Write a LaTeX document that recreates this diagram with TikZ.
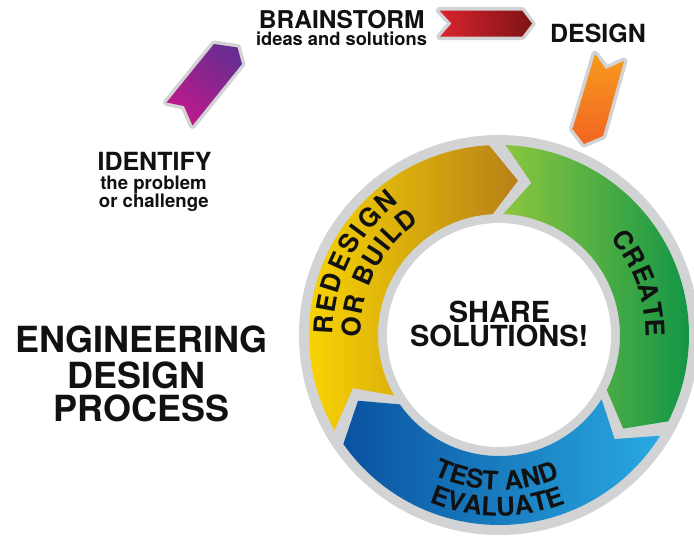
\documentclass[tikz,border=0pt]{standalone}
\usepackage{fontspec}
\setmainfont{TeX Gyre Heros}
\usetikzlibrary{decorations.text}
\definecolor{ringgrey}{HTML}{D1D3D4}
\definecolor{yelA}{HTML}{FFDE00}
\definecolor{yelB}{HTML}{B88018}
\definecolor{grnA}{HTML}{8DC63F}
\definecolor{grnB}{HTML}{0E9447}
\definecolor{bluA}{HTML}{0A52A0}
\definecolor{bluB}{HTML}{29A9E1}
\definecolor{purA}{HTML}{C0198C}
\definecolor{purB}{HTML}{6A2C90}
\definecolor{redA}{HTML}{D9232D}
\definecolor{redB}{HTML}{7D1416}
\definecolor{oraA}{HTML}{F89A1C}
\definecolor{oraB}{HTML}{F16522}
\definecolor{ink}{HTML}{111111}
\newcommand\ringfont{\bfseries\fontsize{26pt}{26pt}\selectfont}
\newcommand\fsz[1]{\bfseries\fontsize{#1pt}{#1pt}\selectfont}
\tikzset{
  outline/.style={draw=ringgrey, line width=7pt, line join=round},
  lbl/.style={inner sep=0pt, anchor=base, text=ink},
  ringtext/.style={decorate, decoration={text along path, text color=ink, text={|\ringfont|#1}, text align=center}},
  ringfit/.style={decorate, decoration={text along path, text color=ink, text={|\ringfont|#1}, text align=fit to path}}
}
\begin{document}
\begin{tikzpicture}[x=1pt,y=1pt]
\useasboundingbox (0,-541) rectangle (694,0);
\fill[white] (0,-541) rectangle (694,0);

% ---- small ribbon arrows
\path[outline] (214,-44) -- (237.5,-47.5) -- (242,-64) -- (192.5,-125.5) -- (184,-106) -- (166.5,-102.5) -- cycle;
\shade[top color=purB, bottom color=purA, shading angle=-40] (214,-44) -- (237.5,-47.5) -- (242,-64) -- (192.5,-125.5) -- (184,-106) -- (166.5,-102.5) -- cycle;

\path[outline] (439.5,-10.5) -- (522,-10.5) -- (532,-23.5) -- (522,-36.7) -- (440,-36.7) -- (451.5,-23.5) -- cycle;
\shade[left color=redA, right color=redB] (439.5,-10.5) -- (522,-10.5) -- (532,-23.5) -- (522,-36.7) -- (440,-36.7) -- (451.5,-23.5) -- cycle;

\path[outline] (595,-54) -- (606,-69) -- (624,-61) -- (603,-136) -- (584,-144) -- (572.5,-129) -- cycle;
\shade[top color=oraA, bottom color=oraB] (595,-54) -- (606,-69) -- (624,-61) -- (603,-136) -- (584,-144) -- (572.5,-129) -- cycle;

% ---- ring
\begin{scope}[shift={(499,-335)}]
\fill[ringgrey] (0,0) circle[radius=200pt];
\shade[left color=yelA, right color=yelB]
  (210:190pt) arc[start angle=210, end angle=93, radius=190pt] -- (83:155.5pt)
  -- (93:121pt) arc[start angle=93, end angle=210, radius=121pt] -- (200:155.5pt) -- cycle;
\shade[left color=grnA, right color=grnB]
  (88:190pt) arc[start angle=88, end angle=-27, radius=190pt] -- (-37:155.5pt)
  -- (-27:121pt) arc[start angle=-27, end angle=88, radius=121pt] -- (78:155.5pt) -- cycle;
\shade[left color=bluA, right color=bluB]
  (-32:190pt) arc[start angle=-32, end angle=-145, radius=190pt] -- (-155:155.5pt)
  -- (-145:121pt) arc[start angle=-145, end angle=-32, radius=121pt] -- (-42:155.5pt) -- cycle;
\fill[white] (0,0) circle[radius=112pt];

\path[ringfit={REDESIGN}] (180:166pt) arc[start angle=180, end angle=127, radius=166pt];
\path[ringfit={OR BUILD}] (181:138.5pt) arc[start angle=181, end angle=125, radius=138.5pt];
\path[ringtext={CREATE}] (44:147pt) arc[start angle=44, end angle=-4, radius=147pt];
\path[ringtext={TEST AND}] (-120:155pt) arc[start angle=-120, end angle=-62, radius=155pt];
\path[ringtext={EVALUATE}] (-118:181pt) arc[start angle=-118, end angle=-63, radius=181pt];
\end{scope}

% ---- labels
\node[lbl, font=\fsz{24.5}] (brain) at (341.7,-28.3) {BRAINSTORM};
\node[lbl, font=\fsz{18.3}] (ideas) at (341.5,-45) {ideas and solutions};
\node[lbl, font=\fsz{25}] (design) at (598,-42.3) {DESIGN};
\node[lbl, font=\fsz{25}] (identify) at (154.5,-170.7) {IDENTIFY};
\node[lbl, font=\fsz{18.6}] (problem) at (153.5,-189.3) {the problem};
\node[lbl, font=\fsz{18.6}] (challenge) at (153.8,-207.3) {or challenge};
\node[lbl, font=\fsz{36}] (eng) at (141.5,-352.7) {ENGINEERING};
\node[lbl, font=\fsz{36}] (edesign) at (136.5,-388.3) {DESIGN};
\node[lbl, font=\fsz{36}] (process) at (141.5,-421.7) {PROCESS};
\node[lbl, font=\fsz{29}] (share) at (499.5,-322.7) {SHARE};
\node[lbl, font=\fsz{29}] (solutions) at (499.2,-346.7) {SOLUTIONS!};
\end{tikzpicture}
\end{document}
